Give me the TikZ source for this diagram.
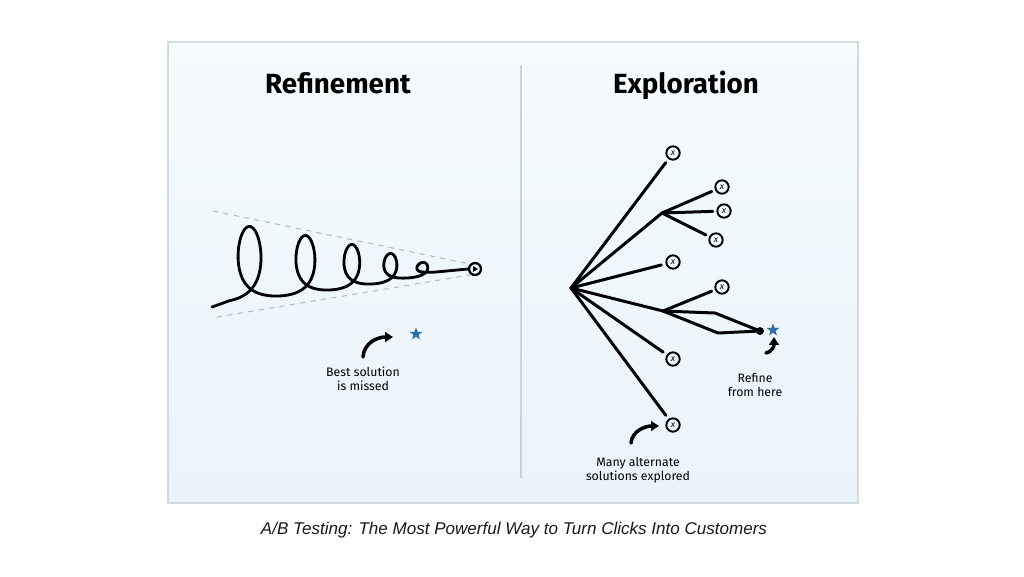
\documentclass[tikz,border=0pt]{standalone}
\usepackage{fontspec}
\setmainfont{Liberation Sans}
\newfontfamily\handfont{Fira Sans}
\usetikzlibrary{shapes.geometric,arrows.meta}
\definecolor{panelborder}{HTML}{D2DADE}
\definecolor{paneltop}{HTML}{F6FBFD}
\definecolor{panelbottom}{HTML}{E9F3FA}
\definecolor{dividergray}{HTML}{C9D3DA}
\definecolor{starblue}{HTML}{2F6EA6}
\definecolor{guidegray}{HTML}{B4BCC2}
\begin{document}
\begin{tikzpicture}[x=0.02cm,y=-0.02cm,
	title/.style={font=\handfont\bfseries\fontsize{15.8}{16}\selectfont, anchor=base},
	note/.style={font=\handfont\fontsize{7}{8.2}\selectfont, align=center, inner sep=0},
	branch/.style={line width=1.7pt, line cap=round, line join=round},
	xmark/.style={circle, draw, line width=1.1pt, minimum size=7.6pt, inner sep=0,
		font=\handfont\itshape\fontsize{5}{5}\selectfont},
	bestmark/.style={star, star points=5, star point ratio=2.4, fill=starblue,
		minimum size=7.5pt, inner sep=0},
	hint/.style={line width=2pt, line cap=round, -{Triangle[length=4.5pt,width=5.5pt]}}]

	\useasboundingbox (0,0) rectangle (1024,576);
	\fill[white] (0,0) rectangle (1024,576);

	% panel
	\shade[top color=paneltop, bottom color=panelbottom] (168,42) rectangle (858,503);
	\draw[panelborder, line width=0.8pt] (168,42) rectangle (858,503);
	\draw[dividergray, line width=0.6pt] (521,65) -- (521,478);

	\node[title] (t1) at (338,93) {Refinement};
	\node[title] (t2) at (686,93) {Exploration};

	% refinement
	\draw[guidegray, dashed, line width=0.6pt] (213,211) -- (470,264);
	\draw[guidegray, dashed, line width=0.6pt] (217,317) -- (470,275);

	\node[circle, draw, line width=1.3pt, minimum size=6.8pt, inner sep=0] (goal) at (475,269) {};
	\fill ([shift={(-2,-3)}]goal.center) -- ([shift={(3,0)}]goal.center) -- ([shift={(-2,3)}]goal.center) -- cycle;

	\draw[line width=1.6pt, line cap=round, line join=round]
		(212,307) -- plot[domain=20:1800, samples=420, variable=\t, smooth]
		({249 + 56*(1-exp(-0.1863*(\t/360-0.5)))/0.17 + 24.8*exp(-0.1863*(\t/360-0.5))*sin(\t)},
		 {262 + 1.5*\t/360 + (40-7.5*\t/360)*(cos(\t) + 0.28*sin(\t)^2)})
		-- (goal.west);

	\node[bestmark] (miss) at (416,334) {};
	\coordinate (A) at (363,357);
	\coordinate (B) at (393,337);
	\draw[hint] (A) .. controls (364,343) and (377,337) .. (B);
	\node[note] (lbl1) at (363,379) {Best solution\\is missed};

	% exploration
	\coordinate (root) at (571,288);
	\coordinate (F1) at (662,213);
	\coordinate (F2) at (663,311);
	\coordinate (D1) at (715,313);
	\coordinate (D2) at (718,333);

	\foreach \n/\p in {1/{673,153}, 2/{722,187}, 3/{724,211}, 4/{716,240},
		5/{673,262}, 6/{722,287}, 7/{673,359}, 8/{673,425}}
		\node[xmark] (x\n) at (\p) {x};

	\foreach \n in {1,5,7,8} \draw[branch, shorten >=2.5pt] (root) -- (x\n);
	\foreach \n in {2,3,4} \draw[branch, shorten >=2pt] (F1) -- (x\n);
	\draw[branch] (root) -- (F1);
	\draw[branch] (root) -- (F2);
	\draw[branch, shorten >=2pt] (F2) -- (x6);

	\node[circle, fill, minimum size=4.5pt, inner sep=0] (dot) at (760,331) {};
	\draw[branch] (F2) -- (D1) -- (dot.center);
	\draw[branch] (F2) -- (D2) -- (dot.center);
	\node[bestmark] (best) at (773,330) {};

	\coordinate (C) at (766,353);
	\coordinate (E) at (774,337);
	\draw[hint] (C) .. controls (773,351) and (774,346) .. (E);
	\node[note] (lbl2) at (755,385) {Refine\\from here};

	\coordinate (G) at (631,443);
	\coordinate (H) at (659,426);
	\draw[hint] (G) .. controls (632,431) and (645,426) .. (H);
	\node[note] (lbl3) at (638,470) {Many alternate\\solutions explored};

	\node[font=\itshape\fontsize{9.7}{11}\selectfont, text=black!90] (cap) at (514,530)
		{A/B Testing: The Most Powerful Way to Turn Clicks Into Customers};

\end{tikzpicture}
\end{document}
